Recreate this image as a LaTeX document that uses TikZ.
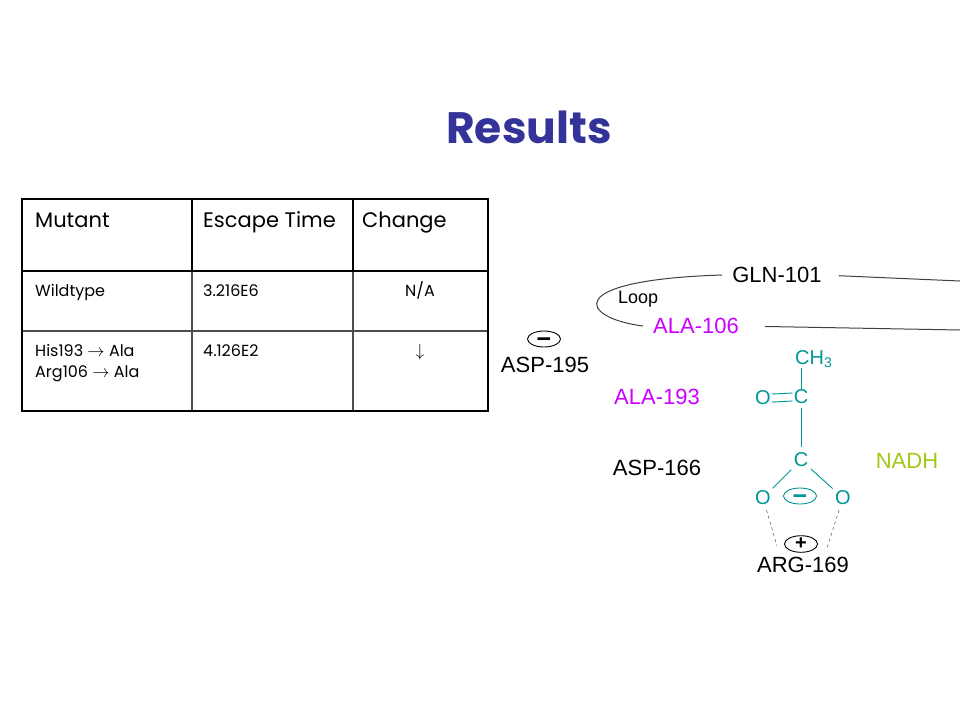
\documentclass[tikz,border=0pt]{standalone}
\usepackage{fontspec}
\setmainfont{Liberation Sans}
\newfontfamily\comicfont{Poppins}
\usetikzlibrary{positioning,calc,shapes.geometric}
\definecolor{titleblue}{RGB}{51,51,153}
\definecolor{ligand}{RGB}{0,150,150}
\definecolor{resid}{RGB}{204,0,255}
\definecolor{nadhgreen}{RGB}{160,200,20}
\newcommand{\chargeminus}{\raisebox{-8.5pt}[0pt][0pt]{−}}
\tikzstyle{residue}=[inner sep=0pt,font=\fontsize{22}{22}\selectfont]
\tikzstyle{atom}=[inner sep=1pt,text=ligand,font=\fontsize{20}{20}\selectfont]
\tikzstyle{bond}=[draw=ligand,line width=0.9pt]
\tikzstyle{backbone}=[draw=black!75,line width=1pt]
\tikzstyle{charge}=[draw,ellipse,minimum width=33pt,minimum height=16pt,inner sep=0pt,line width=0.9pt,font=\bfseries\fontsize{25}{25}\selectfont]
\tikzstyle{head}=[inner sep=0pt,anchor=base west,font=\comicfont\fontsize{21}{21}\selectfont]
\tikzstyle{cell}=[inner sep=0pt,anchor=base west,font=\comicfont\fontsize{16}{16}\selectfont]
\tikzstyle{rule}=[line width=2.8pt]

\begin{document}
\begin{tikzpicture}[x=1pt,y=-1pt]
\useasboundingbox (0,0) rectangle (960,720);

\node[text=titleblue,font=\comicfont\bfseries\fontsize{44}{44}\selectfont] (title) at (529,127) {Results};

\draw[line width=1.2pt,black!70] (192,271) -- (192,411) (353,271) -- (353,411) (22,331) -- (488,331);
\draw[rule] (22,199) rectangle (488,411);
\draw[rule] (22,271) -- (488,271) (192,199) -- (192,271) (353,199) -- (353,271);

\node[head] (hmut) at (35,227) {Mutant};
\node[head] (hesc) at (203,227) {Escape Time};
\node[head] (hchg) at (362,227) {Change};
\node[cell] (wt) at (35,296) {Wildtype};
\node[cell] (wttime) at (203,296) {3.216E6};
\node[cell,anchor=base] (wtchg) at (420,296) {N/A};
\node[cell] (mut1) at (35,356) {His193 $\rightarrow$ Ala};
\node[cell] (mut2) at (35,377) {Arg106 $\rightarrow$ Ala};
\node[cell] (mutime) at (203,356) {4.126E2};
\node[cell,anchor=base] (muchg) at (420,356) {$\downarrow$};

\node[residue] (gln) at (777,275) {GLN-101};
\node[residue,text=resid] (ala106) at (696,326) {ALA-106};
\node[inner sep=0pt,anchor=base west,font=\fontsize{18}{18}\selectfont] (loop) at (618,303) {Loop};
\coordinate (glnend) at (960,281);
\coordinate (alaend) at (960,330);
\draw[backbone,shorten <=17pt] (gln.east) -- (glnend);
\draw[backbone,shorten <=26pt] (ala106.east) -- (alaend);
\draw[backbone] ([xshift=-10pt]gln.west) .. controls (560,280) and (580,318) .. ([xshift=-10pt]ala106.west);

\node[charge] (asp195c) at (544,339) {\chargeminus};
\node[residue] (asp195) at (545,365) {ASP-195};
\node[residue,text=resid] (ala193) at (657,397) {ALA-193};
\node[residue] (asp166) at (657,468) {ASP-166};
\node[residue,text=nadhgreen] (nadh) at (907,461) {NADH};

\node[atom,anchor=base west] (ch3) at (794,364) {CH\textsubscript{3}};
\node[atom] (c1) at (801,397) {C};
\node[atom] (o1) at (763,398) {O};
\node[atom] (c2) at (801,460) {C};
\node[atom] (o2) at (763,498) {O};
\node[atom] (o3) at (843,498) {O};
\node[charge,draw=ligand,text=ligand] (carbc) at (800,496) {\chargeminus};
\node[charge,font=\bfseries\fontsize{20}{20}\selectfont] (argc) at (801,544) {+};
\node[residue] (arg) at (803,565) {ARG-169};
\coordinate (hbl) at (777,546);
\coordinate (hbr) at (827,548);

\draw[bond] (ch3.south -| c1.north) -- (c1.north);
\draw[bond] ([yshift=4pt]o1.east) -- ([yshift=4pt]c1.west);
\draw[bond] ([yshift=-4pt]o1.east) -- ([yshift=-4pt]c1.west);
\draw[bond,shorten <=3pt,shorten >=5pt] (c1) -- (c2);
\draw[bond,shorten <=2pt,shorten >=2pt] (c2) -- (o2);
\draw[bond,shorten <=2pt,shorten >=2pt] (c2) -- (o3);
\draw[dashed,black!80,shorten <=4pt] (o2) -- (hbl);
\draw[dashed,black!80,shorten <=4pt] (o3) -- (hbr);
\end{tikzpicture}
\end{document}
